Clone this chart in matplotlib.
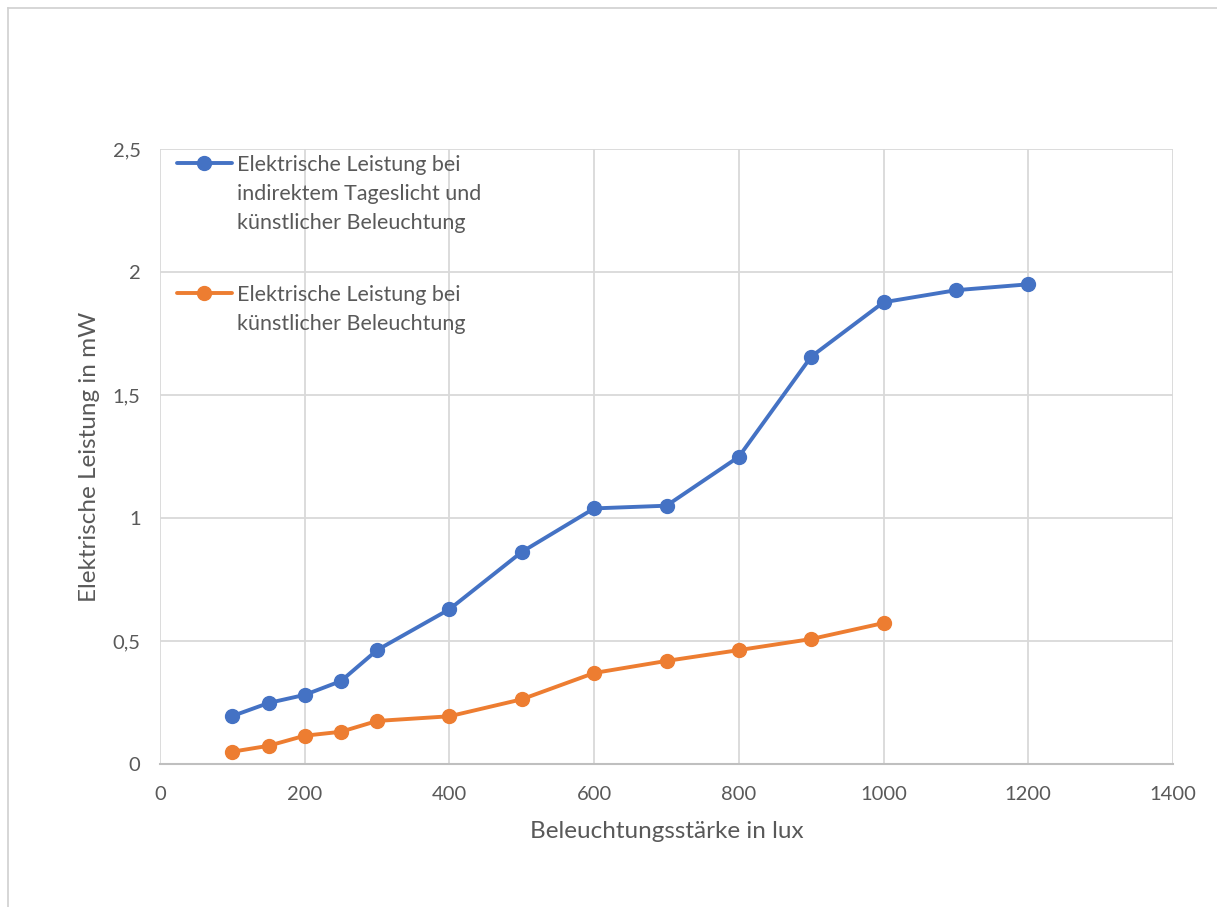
import matplotlib
matplotlib.use("Agg")
import matplotlib.pyplot as plt
from matplotlib.lines import Line2D
from matplotlib.ticker import FuncFormatter

plt.rcParams['font.family'] = ['Lato', 'DejaVu Sans']

lux = [100, 150, 200, 250, 300, 400, 500, 600, 700, 800, 900, 1000, 1100, 1200]
p_daylight = [0.195, 0.248, 0.281, 0.337, 0.463, 0.629, 0.862, 1.039, 1.05,
              1.249, 1.656, 1.877, 1.926, 1.950]
lux_art = [100, 150, 200, 250, 300, 400, 500, 600, 700, 800, 900, 1000]
p_artificial = [0.050, 0.074, 0.115, 0.131, 0.175, 0.194, 0.263, 0.370,
                0.419, 0.463, 0.508, 0.573]

label_daylight = ["Elektrische Leistung bei", "indirektem Tageslicht und",
                  "künstlicher Beleuchtung"]
label_artificial = ["Elektrische Leistung bei", "künstlicher Beleuchtung"]
xticks = [0, 200, 400, 600, 800, 1000, 1200, 1400]
yticks = [0, 0.5, 1, 1.5, 2, 2.5]

W, H = 1217, 907
fig = plt.figure(figsize=(W / 100, H / 100), dpi=100)
ax = fig.add_axes([160 / W, 1 - 764 / H, (1173 - 160) / W, (764 - 149) / H])

text_col = "#595959"
grid_col = "#D9D9D9"
blue, orange = "#4472C4", "#ED7D31"
line_kw = dict(lw=2.8, marker="o", ms=10, solid_capstyle="round")

h_day, = ax.plot(lux, p_daylight, color=blue, zorder=3, **line_kw)
h_art, = ax.plot(lux_art, p_artificial, color=orange, zorder=3, **line_kw)

ax.set_xlim(0, 1400)
ax.set_ylim(0, 2.5)
ax.set_xticks(xticks)
ax.set_yticks(yticks)
ax.yaxis.set_major_formatter(FuncFormatter(lambda v, p: f"{v:g}".replace(".", ",")))
ax.grid(True, color=grid_col, lw=1.3)
ax.set_axisbelow(True)
for s in ("top", "right", "left"):
    ax.spines[s].set_visible(False)
ax.spines["bottom"].set_color("#BFBFBF")
ax.spines["bottom"].set_linewidth(1.5)
ax.tick_params(length=0, labelsize=14.5, colors=text_col)
ax.tick_params(axis="y", pad=14)
ax.tick_params(axis="x", pad=16)

ax.set_xlabel("Beleuchtungsstärke in lux", fontsize=17.5, color=text_col, labelpad=13)
ax.set_ylabel("Elektrische Leistung in mW", fontsize=17.5, color=text_col, labelpad=9)


def legend_block(handle, lines, top):
    """Legend entry whose wrapped label sits line by line, handle on the first line."""
    blank = Line2D([], [], linestyle="none")
    handles = [handle] + [blank] * (len(lines) - 1)
    return ax.legend(handles, lines, loc="upper left",
                     bbox_to_anchor=(0.0168, top), frameon=False,
                     fontsize=15.5, labelspacing=0.42, handlelength=2.55,
                     handletextpad=0.25, borderpad=0, borderaxespad=0,
                     labelcolor=text_col)


leg1 = legend_block(h_day, label_daylight, 0.991)
ax.add_artist(leg1)
leg2 = legend_block(h_art, label_artificial, 0.779)

# outer chart border
fig.add_artist(Line2D([8 / W, 1.0], [1 - 8 / H, 1 - 8 / H], color="#D0D0D0", lw=1.2))
fig.add_artist(Line2D([8 / W, 8 / W], [0, 1 - 8 / H], color="#D0D0D0", lw=1.2))

fig.savefig("out.png", dpi=100, facecolor="white")
